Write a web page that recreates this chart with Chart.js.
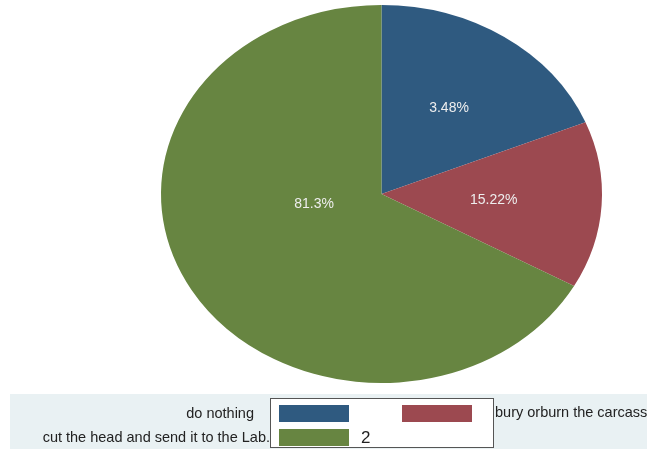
<!DOCTYPE html>
<html lang="en">
  <head>
    <meta charset="UTF-8" />
    <title>Pie</title>
    <script src="https://cdn.jsdelivr.net/npm/chart.js"></script>
    <style>
      html, body { margin: 0; padding: 0; background: #fff; }
      #wrap { width: 647px; height: 457px; position: relative; }
    </style>
  </head>
  <body>
    <div id="wrap"><canvas id="pie"></canvas></div>

    <script>
      // categories, slice sizes (as drawn) and the printed labels
      const categories = ["do nothing", "bury orburn the carcass", "cut the head and send it to the Lab."];
      const sliceValues = [18.8, 14.3, 66.9];
      const sliceLabels = ["3.48%", "15.22%", "81.3%"];
      const legendExtra = "2";
      const colors = ["#2f5a80", "#9c4950", "#678541"];

      const FONT = "'Liberation Sans', Arial, sans-serif";
      const SX = 220.5 / 189; // pie is stretched into an ellipse

      // stretch the arcs horizontally around the pie centre
      const ellipsePlugin = {
        id: "ellipse",
        beforeDatasetsDraw(chart) {
          const arc = chart.getDatasetMeta(0).data[0];
          const ctx = chart.ctx;
          ctx.save();
          ctx.translate(arc.x, arc.y);
          ctx.scale(SX, 1);
          ctx.translate(-arc.x, -arc.y);
        },
        afterDatasetsDraw(chart) {
          chart.ctx.restore();
        },
      };

      // white percentage labels inside the slices
      const labelPlugin = {
        id: "sliceLabels",
        afterDatasetsDraw(chart, args, opts) {
          const ctx = chart.ctx;
          ctx.save();
          ctx.font = "14px " + FONT;
          ctx.fillStyle = "#eeeeee";
          ctx.textAlign = "center";
          ctx.textBaseline = "middle";
          chart.getDatasetMeta(0).data.forEach((arc, i) => {
            const mid = (arc.startAngle + arc.endAngle) / 2 + opts.nudge[i];
            const r = arc.outerRadius * opts.frac[i];
            const x = arc.x + Math.cos(mid) * r * SX;
            const y = arc.y + Math.sin(mid) * r;
            ctx.fillText(sliceLabels[i], x, y);
          });
          ctx.restore();
        },
      };

      // Stata-like legend panel under the pie
      const legendPlugin = {
        id: "stataLegend",
        afterDraw(chart) {
          const ctx = chart.ctx;
          ctx.save();
          ctx.fillStyle = "#e9f1f3";
          ctx.fillRect(10, 394, 637, 55);
          ctx.fillStyle = "#ffffff";
          ctx.fillRect(270, 398, 223, 49);
          ctx.strokeStyle = "#555555";
          ctx.lineWidth = 1;
          ctx.strokeRect(270.5, 398.5, 223, 49);

          const sw = [
            [279, 405, colors[0]],
            [402, 405, colors[1]],
            [279, 429, colors[2]],
          ];
          sw.forEach(([x, y, c]) => {
            ctx.fillStyle = c;
            ctx.fillRect(x, y, 70, 17);
          });

          ctx.fillStyle = "#222222";
          ctx.font = "14.5px " + FONT;
          ctx.textBaseline = "middle";
          ctx.textAlign = "right";
          ctx.fillText(categories[0], 254, 414);
          ctx.fillText(categories[2], 270, 438);
          ctx.textAlign = "left";
          ctx.fillText(categories[1], 495, 413);
          ctx.font = "17px " + FONT;
          ctx.fillText(legendExtra, 361, 438);
          ctx.restore();
        },
      };

      new Chart(document.getElementById("pie"), {
        type: "pie",
        data: {
          labels: categories,
          datasets: [
            {
              data: sliceValues,
              backgroundColor: colors,
              borderWidth: 0,
            },
          ],
        },
        options: {
          responsive: true,
          maintainAspectRatio: false,
          animation: false,
          layout: { padding: { top: 5, bottom: 74, left: 192, right: 76 } },
          plugins: {
            legend: { display: false },
            tooltip: { enabled: false },
            sliceLabels: { frac: [0.55, 0.51, 0.31], nudge: [0, 0, 0.36] },
          },
        },
        plugins: [ellipsePlugin, labelPlugin, legendPlugin],
      });
    </script>
  </body>
</html>
